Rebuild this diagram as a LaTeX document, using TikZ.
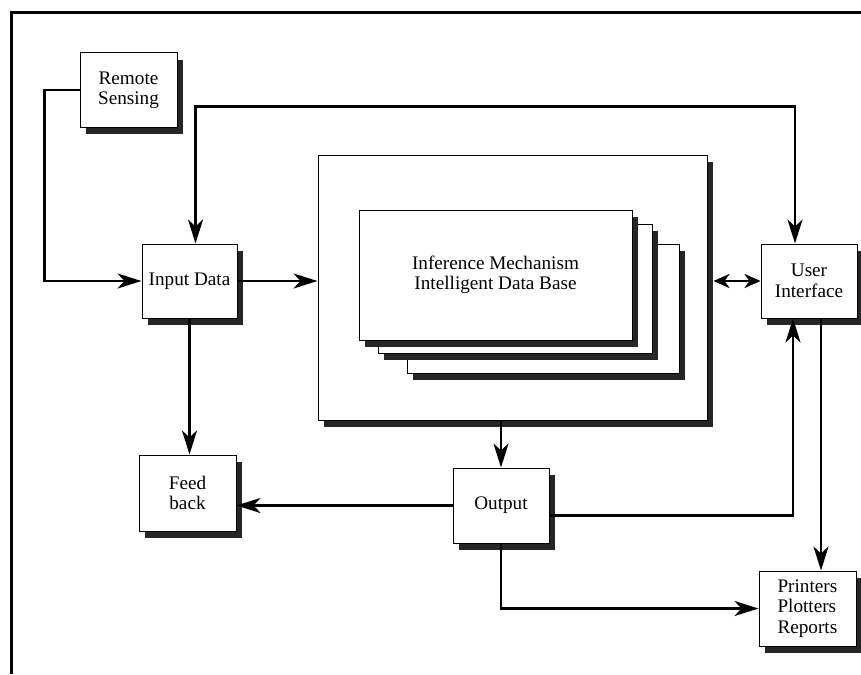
\documentclass[tikz,border=0pt]{standalone}
\usepackage{fontspec}
\setmainfont{Liberation Serif}
\usetikzlibrary{arrows.meta,shadows,calc}
\tikzset{
  box/.style={draw=black, line width=0.5pt, fill=white, align=center, inner sep=0pt,
    font=\fontsize{9.6}{10.2}\selectfont,
    drop shadow={shadow xshift=3pt, shadow yshift=-3.5pt, fill=black!85, opacity=1}},
  tip/.tip={Stealth[length=12pt,width=7.5pt,inset=3.5pt]},
  smalltip/.tip={Stealth[length=8pt,width=7pt,inset=2.5pt]},
  conn/.style={line width=1.4pt, -tip},
  conn2/.style={line width=1.4pt, tip-tip},
  conn3/.style={line width=1.4pt, smalltip-smalltip},
  frameline/.style={line width=1.5pt}
}
\begin{document}
\begin{tikzpicture}[x=0.5pt,y=-0.5pt]
\useasboundingbox (0,0) rectangle (861,674);
\coordinate (fa) at (11,674);
\coordinate (fb) at (11,13);
\coordinate (fc) at (861,13);
\draw[frameline] (fa) -- (fb) -- (fc);

\node[box, minimum width=48.5pt, minimum height=37pt] (rs) at (128.5,90) {Remote\\Sensing};
\node[box, minimum width=47.5pt, minimum height=37pt] (in) at (189.5,281) {Input Data};
\node[box, minimum width=194.5pt, minimum height=132.5pt] (big) at (512.5,287.5) {};
\node[box, minimum width=136pt, minimum height=64.5pt] (m3) at (543,308.5) {};
\node[box, minimum width=137pt, minimum height=64.5pt] (m2) at (515,288.5) {};
\node[box, minimum width=136.5pt, minimum height=65pt] (m1) at (495.5,275) {Inference Mechanism\\Intelligent Data Base};
\node[box, minimum width=48pt, minimum height=37pt] (ui) at (809,281) {User\\Interface};
\node[box, minimum width=48.5pt, minimum height=38pt] (fbk) at (187.5,493) {Feed\\back};
\node[box, minimum width=48pt, minimum height=37.5pt] (out) at (501,505.5) {Output};
\node[box, minimum width=48.5pt, minimum height=37.5pt, align=left, text width=30pt] (pr) at (807.5,608.5) {Printers\\Plotters\\Reports};

\coordinate (inn) at ($(in.north)+(6,0)$);
\coordinate (uin) at ($(ui.north)+(-14,0)$);
\coordinate (top) at ($(uin)+(0,-137)$);
\coordinate (oute) at ($(out.east)+(0,10)$);
\coordinate (uisa) at ($(ui.south)+(-16,0)$);
\coordinate (uisb) at ($(ui.south)+(12,0)$);
\coordinate (bige) at ($(big.east |- ui.west)+(6,0)$);

\draw[conn] (rs.west) -- ++(-35,0) |- (in.west);
\draw[conn2] (inn) |- (top) -- (uin);
\draw[conn] (in.east) -- (in.east -| big.west);
\draw[conn3] (bige) -- (ui.west);
\draw[conn] (in.south) -- (in.south |- fbk.north);
\draw[conn] (big.south -| out.north) -- (out.north);
\draw[conn] (out.west) -- (out.west -| fbk.east);
\draw[conn] (oute) -| (uisa);
\draw[conn] (uisb) -- (uisb |- pr.north);
\draw[conn] (out.south) |- (pr.west);
\end{tikzpicture}
\end{document}
